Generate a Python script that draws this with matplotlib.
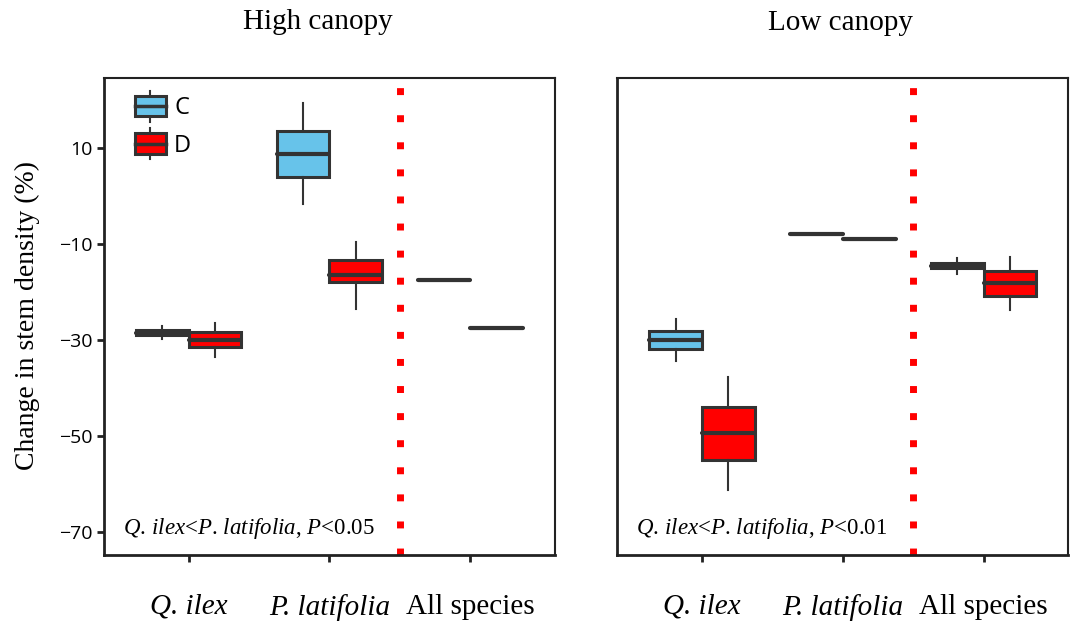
import matplotlib
matplotlib.use("Agg")
import matplotlib.pyplot as plt
from matplotlib.legend_handler import HandlerBase
from matplotlib.patches import Patch, Rectangle
from matplotlib.lines import Line2D

plt.rcParams['font.family'] = ['Liberation Serif', 'DejaVu Serif']
plt.rcParams['mathtext.fontset'] = 'custom'
plt.rcParams['mathtext.rm'] = 'Liberation Serif'
plt.rcParams['mathtext.it'] = 'Liberation Serif:italic'

species = ["Q. ilex", "P. latifolia", "All species"]
treatments = ["C", "D"]

# box stats per species: [whislo, q1, med, q3, whishi]
high_c = [[-29.8, -28.9, -28.4, -27.8, -27.0],
          [-1.7, 3.9, 8.8, 13.6, 19.4],
          [-17.4, -17.4, -17.4, -17.4, -17.4]]
high_d = [[-33.4, -31.4, -30.0, -28.3, -26.5],
          [-23.5, -17.8, -16.4, -13.2, -9.5],
          [-27.5, -27.5, -27.5, -27.5, -27.5]]
low_c = [[-34.3, -31.9, -29.9, -28.0, -25.6],
         [-7.8, -7.8, -7.8, -7.8, -7.8],
         [-16.2, -15.0, -14.5, -13.9, -12.9]]
low_d = [[-61.2, -55.0, -49.4, -43.8, -37.6],
         [-9.0, -9.0, -9.0, -9.0, -9.0],
         [-23.7, -20.7, -18.1, -15.6, -12.6]]

panel_titles = ["High canopy", "Low canopy"]
panel_notes = [r'$\mathit{Q.\,ilex}$<$\mathit{P.\,latifolia}$, $\mathit{P}$<0.05',
               r'$\mathit{Q.\,ilex}$<$\mathit{P.\,latifolia}$, $\mathit{P}$<0.01']
y_ticks = [10, -10, -30, -50, -70]

fill = {"C": "#67C3EA", "D": "#FF0000"}
edge = "#333333"
width = 0.375


def to_stats(rows):
    out = []
    for lo, q1, med, q3, hi in rows:
        out.append(dict(whislo=lo, q1=q1, med=med, q3=q3, whishi=hi))
    return out


class BoxHandler(HandlerBase):
    # small boxplot glyph for the legend keys
    def create_artists(self, legend, orig_handle, xdescent, ydescent,
                       width, height, fontsize, trans):
        x0, y0 = -xdescent, -ydescent
        cx, cy = x0 + width / 2, y0 + height / 2
        ext = height * 0.25
        lo = Line2D([cx, cx], [y0 - ext, y0], color=edge, lw=1.5, transform=trans)
        hi = Line2D([cx, cx], [y0 + height, y0 + height + ext], color=edge, lw=1.5, transform=trans)
        box = Rectangle((x0, y0), width, height, facecolor=orig_handle.get_facecolor(),
                        edgecolor=edge, lw=2.2, transform=trans)
        mid = Line2D([x0, x0 + width], [cy, cy], color=edge, lw=2.5, transform=trans)
        return [lo, hi, box, mid]


fig = plt.figure(figsize=(10.75, 6.23), dpi=100)
ax1 = fig.add_axes([0.0967, 0.1091, 0.4195, 0.7657])
ax2 = fig.add_axes([0.5744, 0.1091, 0.4191, 0.7657])

panels = [(ax1, high_c, high_d), (ax2, low_c, low_d)]
pos = [1, 2, 3]

for i, (ax, c_rows, d_rows) in enumerate(panels):
    for t, rows, shift in (("C", c_rows, -width / 2), ("D", d_rows, width / 2)):
        ax.bxp(to_stats(rows), positions=[p + shift for p in pos], widths=width,
               showfliers=False, showcaps=False, patch_artist=True,
               boxprops=dict(facecolor=fill[t], edgecolor=edge, linewidth=2.2),
               medianprops=dict(color=edge, linewidth=3, solid_capstyle='round'),
               whiskerprops=dict(color=edge, linewidth=1.5))
    ax.axvline(2.5, color='red', lw=5, linestyle=(0, (1, 2.9)), dash_capstyle='butt')

    ax.set_xlim(0.4, 3.6)
    ax.set_ylim(-74.7, 24.6)
    ax.set_xticks(pos)
    ax.set_xticklabels(species, fontsize=21)
    for lab, sp in zip(ax.get_xticklabels(), species):
        if sp != "All species":
            lab.set_fontstyle('italic')
    ax.tick_params(axis='x', length=5, width=2, pad=23, color='#222222')
    ax.set_yticks(y_ticks)
    ax.set_yticklabels(["10", "\u221210", "\u221230", "\u221250", "\u221270"],
                       fontfamily='Open Sans', fontsize=14)
    ax.tick_params(axis='y', length=5, width=2, pad=3, color='#222222')
    for s in ax.spines.values():
        s.set_linewidth(1.5)
        s.set_color('#222222')
    ax.spines['left'].set_linewidth(2)
    ax.spines['bottom'].set_linewidth(2)
    ax.text(0.042, 0.045, panel_notes[i], transform=ax.transAxes,
            fontsize=16.5, va='baseline', ha='left')

ax2.tick_params(axis='y', left=False, labelleft=False)

handles = [Patch(facecolor=fill[t]) for t in treatments]
ax1.legend(handles, treatments, handler_map={Patch: BoxHandler()},
           loc='upper left', bbox_to_anchor=(0.069, 0.962), frameon=False,
           borderpad=0, borderaxespad=0, handlelength=1.3, handleheight=0.95,
           handletextpad=0.35, labelspacing=0.55,
           prop=dict(family='Open Sans', size=17))

fig.text(318 / 1075, 1 - 29 / 623, panel_titles[0], fontsize=21, ha='center', va='baseline')
fig.text(841 / 1075, 1 - 30 / 623, panel_titles[1], fontsize=21, ha='center', va='baseline')
fig.text(27 / 1075, 0.493, "Change in stem density (%)", fontsize=20,
         rotation=90, ha='center', va='center')

fig.savefig("out.png", dpi=100)
